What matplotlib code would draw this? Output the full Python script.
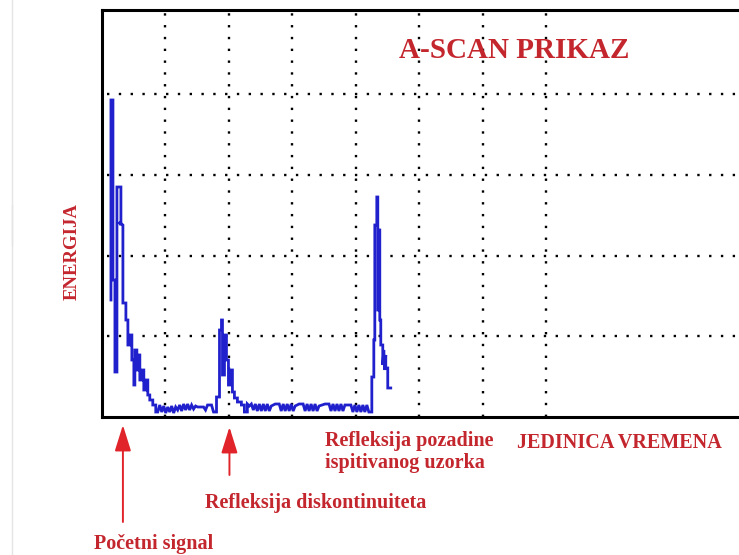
import matplotlib
matplotlib.use("Agg")
import matplotlib.pyplot as plt
from matplotlib.lines import Line2D

# ---- data (time units 0..10, energy units 0..5) ----
time_px = [111, 111, 113, 113, 115, 115, 117, 117, 121, 121, 119, 123, 123, 126, 126, 128, 128, 130, 130,
           132, 132, 134, 134, 135, 135, 137, 137, 139, 139, 140, 140, 142, 142, 144, 144, 146, 146, 148, 148,
           150, 150, 153, 153, 156, 156, 158,
           160, 162, 164, 166, 168, 170, 172, 174, 176, 178, 180, 182, 184, 186, 188, 190, 192, 194, 196,
           198, 202, 204, 206, 208, 212, 214, 216,
           217, 217, 220, 220, 222, 222, 223, 223, 225, 225, 227, 227, 229, 229, 231, 231, 233, 233, 235,
           235, 238, 238, 242, 242, 245, 245, 248, 248,
           250, 252, 254, 256, 258, 260, 262, 264, 266, 268, 270, 272, 276, 280, 282, 284, 286, 288, 290,
           292, 294, 296, 300, 304, 306, 308, 310, 312, 314, 316, 318, 320, 326, 330, 332, 334, 336, 338,
           340, 342, 344, 346, 352, 354, 356, 358, 360, 362, 364, 366, 368, 370, 372,
           373, 373, 375, 375, 376, 376, 378, 378, 379, 379, 380, 380, 381, 381, 382, 382, 384, 384, 385,
           386, 387, 387, 389, 389, 392]
energy_px = [300, 100, 100, 280, 280, 372, 372, 187, 187, 225, 222, 225, 303, 303, 320, 320, 345, 345, 335,
             335, 360, 360, 385, 385, 350, 350, 370, 370, 355, 355, 380, 380, 370, 370, 390, 390, 380, 380, 395,
             395, 400, 400, 405, 405, 412, 412,
             405, 412, 406, 413, 407, 412, 406, 413, 407, 410, 405, 411, 404, 410, 404, 410, 405, 409, 406,
             407, 407, 407, 410, 405, 405, 412, 412,
             412, 397, 397, 330, 330, 320, 320, 375, 375, 335, 335, 360, 360, 385, 385, 370, 370, 392, 392,
             398, 398, 402, 402, 405, 405, 412, 412, 404,
             406, 404, 410, 404, 411, 404, 411, 404, 411, 404, 411, 406, 404, 404, 411, 404, 411, 404, 411,
             404, 411, 406, 404, 404, 411, 404, 411, 404, 411, 404, 411, 406, 404, 404, 411, 404, 411, 404,
             411, 404, 411, 405, 405, 412, 405, 412, 405, 412, 405, 412, 405, 412, 412,
             412, 377, 377, 340, 340, 225, 225, 197, 197, 310, 310, 230, 230, 320, 320, 345, 345, 365, 350,
             370, 355, 368, 368, 388, 388]

# convert read pixel positions to chart units
time = [(p - 102) / 63.7 for p in time_px]
energy = [(417 - p) / 80.75 for p in energy_px]

x_grid = [1, 2, 3, 4, 5, 6, 7]
y_grid = [1, 2, 3, 4]

title = "A-SCAN PRIKAZ"
ylabel = "ENERGIJA"
xlabel = "JEDINICA VREMENA"
lbl_back = "Refleksija pozadine\nispitivanog uzorka"
lbl_disc = "Refleksija diskontinuiteta"
lbl_start = "Početni signal"

RED = "#c4262e"
W, H = 739, 555

fig = plt.figure(figsize=(W / 100, H / 100), dpi=100)
ax = fig.add_axes([102 / W, 1 - 417 / H, 1 - 102 / W + 0.01, (417 - 10) / H])
ax.set_xlim(0, (739 - 102) / 63.7 + 0.16)
ax.set_ylim(0, (417 - 10) / 80.75)

for xv in x_grid:
    ax.plot([xv, xv], [0, 5.1], color="black", lw=1.7, ls=(0, (1, 4)), zorder=1)
for yv in y_grid:
    ax.plot([0.08, 11], [yv, yv], color="black", lw=1.7, ls=(0, (1, 4)), zorder=1)

ax.plot(time, energy, color="#2020cc", lw=2.0, solid_joinstyle="miter", zorder=3)

ax.set_xticks([])
ax.set_yticks([])
for s in ["left", "top", "bottom"]:
    ax.spines[s].set_linewidth(2.2)
ax.spines["right"].set_visible(False)

serif = ["Liberation Serif", "DejaVu Serif"]
fig.text(514 / W, 1 - 51 / H, title, color=RED, fontsize=21, fontweight="bold",
         family=serif, ha="center", va="center")
fig.text(72 / W, 1 - 252 / H, ylabel, color=RED, fontsize=13.5, fontweight="bold",
         family=serif, ha="center", va="center", rotation=90)
fig.text(619 / W, 1 - 443 / H, xlabel, color=RED, fontsize=14.5, fontweight="bold",
         family=serif, ha="center", va="center")
fig.text(325 / W, 1 - 452 / H, lbl_back, color=RED, fontsize=14.5, fontweight="bold",
         family=serif, ha="left", va="center", linespacing=1.15)
fig.text(316 / W, 1 - 503 / H, lbl_disc, color=RED, fontsize=14.5, fontweight="bold",
         family=serif, ha="center", va="center")
fig.text(154 / W, 1 - 544 / H, lbl_start, color=RED, fontsize=14.5, fontweight="bold",
         family=serif, ha="center", va="center")

# arrows
for xp, tip, tail in [(123, 425, 522), (230, 427, 475)]:
    ax.annotate("", xy=((xp - 102) / 63.7, (417 - tip) / 80.75),
                xytext=((xp - 102) / 63.7, (417 - tail) / 80.75),
                annotation_clip=False,
                arrowprops=dict(arrowstyle="-|>,head_length=1.6,head_width=0.5",
                                color="#e0242a", lw=1.4, shrinkA=0, shrinkB=0))

# faint scan edge on the left
fig.add_artist(Line2D([12 / W, 12 / W], [0, 1 - 205 / H], color="#e4e4e4", lw=1))
fig.add_artist(Line2D([12 / W, 12 / W], [1 - 245 / H, 1], color="#e4e4e4", lw=1))

fig.savefig("out.png", dpi=100, facecolor="white")
